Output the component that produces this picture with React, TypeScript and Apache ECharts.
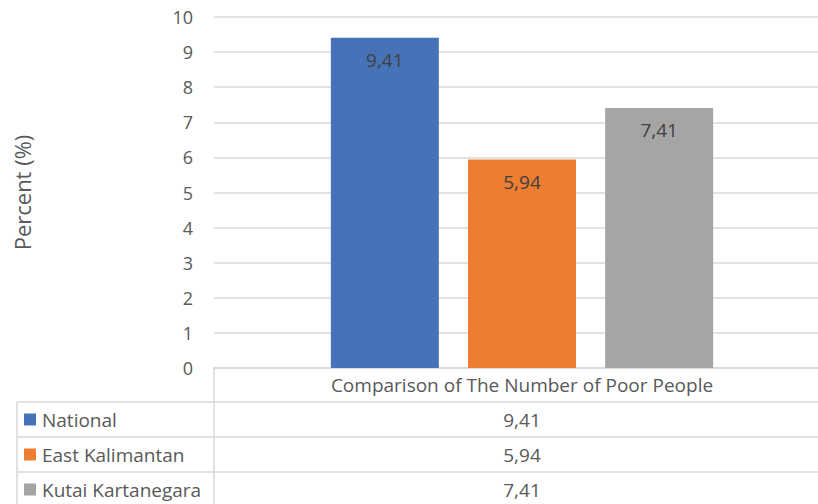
import React, { useEffect, useRef } from "react";
import * as echarts from "echarts";

const categories = ["Comparison of The Number of Poor People"];
const seriesNames = ["National", "East Kalimantan", "Kutai Kartanegara"];
const seriesValues = [9.41, 5.94, 7.41];
const seriesColors = ["#4672B8", "#ED7D31", "#A5A5A5"];
const yTicks = { min: 0, max: 10, interval: 1 };

const FONT = "'Open Sans'";
const FS = 19;
const TEXT = "#595959";
const LINE = "#D9D9D9";
const fmt = (v: number) => v.toFixed(2).replace(".", ",");

export default function App() {
  const ref = useRef<HTMLDivElement>(null);
  useEffect(() => {
    document.body.style.margin = "0";
    document.body.style.overflow = "hidden";
    document.documentElement.style.overflow = "hidden";
    const chart = echarts.init(ref.current!, undefined, { renderer: "svg" });
    const rowTop = 402;
    const rowH = 35;
    const graphics: any[] = [];
    graphics.push({ type: "line", shape: { x1: 17, y1: rowTop, x2: 830, y2: rowTop }, style: { stroke: LINE, lineWidth: 1.5 } });
    seriesNames.forEach((name, i) => {
      const y = rowTop + rowH * (i + 1);
      graphics.push({ type: "line", shape: { x1: 17, y1: y, x2: 830, y2: y }, style: { stroke: LINE, lineWidth: 1.5 } });
      const cy = rowTop + rowH * i + rowH / 2;
      graphics.push({ type: "rect", shape: { x: 24, y: cy - 6, width: 12, height: 12 }, style: { fill: seriesColors[i] } });
      graphics.push({ type: "text", x: 42, y: cy, style: { text: name, fill: TEXT, font: `${FS}px ${FONT}`, verticalAlign: "middle", align: "left" } });
      graphics.push({ type: "text", x: 522, y: cy, style: { text: fmt(seriesValues[i]), fill: TEXT, font: `${FS}px ${FONT}`, verticalAlign: "middle", align: "center" } });
    });
    graphics.push({ type: "line", shape: { x1: 17, y1: rowTop, x2: 17, y2: 504 }, style: { stroke: LINE, lineWidth: 1.5 } });
    graphics.push({ type: "line", shape: { x1: 214, y1: 367, x2: 214, y2: 504 }, style: { stroke: LINE, lineWidth: 1.5 } });

    chart.setOption({
      animation: false,
      grid: { left: 214, right: 0, top: 17, bottom: 136, containLabel: false },
      xAxis: {
        type: "category",
        data: categories,
        axisLine: { show: true, lineStyle: { color: LINE, width: 1.5 } },
        axisTick: { show: false },
        axisLabel: { color: TEXT, fontFamily: FONT, fontSize: FS, margin: 7 },
      },
      yAxis: {
        type: "value",
        min: yTicks.min,
        max: yTicks.max,
        interval: yTicks.interval,
        name: "Percent (%)",
        nameLocation: "middle",
        nameRotate: 90,
        nameGap: 181,
        nameTextStyle: { color: TEXT, fontFamily: FONT, fontSize: 22 },
        axisLine: { show: false },
        axisTick: { show: false },
        axisLabel: { color: TEXT, fontFamily: FONT, fontSize: 18, margin: 21 },
        splitLine: { lineStyle: { color: LINE, width: 1.5 } },
      },
      series: seriesNames.map((name, i) => ({
        name,
        type: "bar",
        data: [seriesValues[i]],
        barWidth: 108,
        barGap: "27%",
        itemStyle: { color: seriesColors[i] },
        label: {
          show: true,
          position: "insideTop",
          distance: 13,
          color: "#404040",
          fontFamily: FONT,
          fontSize: FS,
          formatter: (p: any) => fmt(p.value),
        },
      })),
      graphic: graphics,
    });
    return () => chart.dispose();
  }, []);
  return <div ref={ref} style={{ width: 830, height: 504 }} />;
}
